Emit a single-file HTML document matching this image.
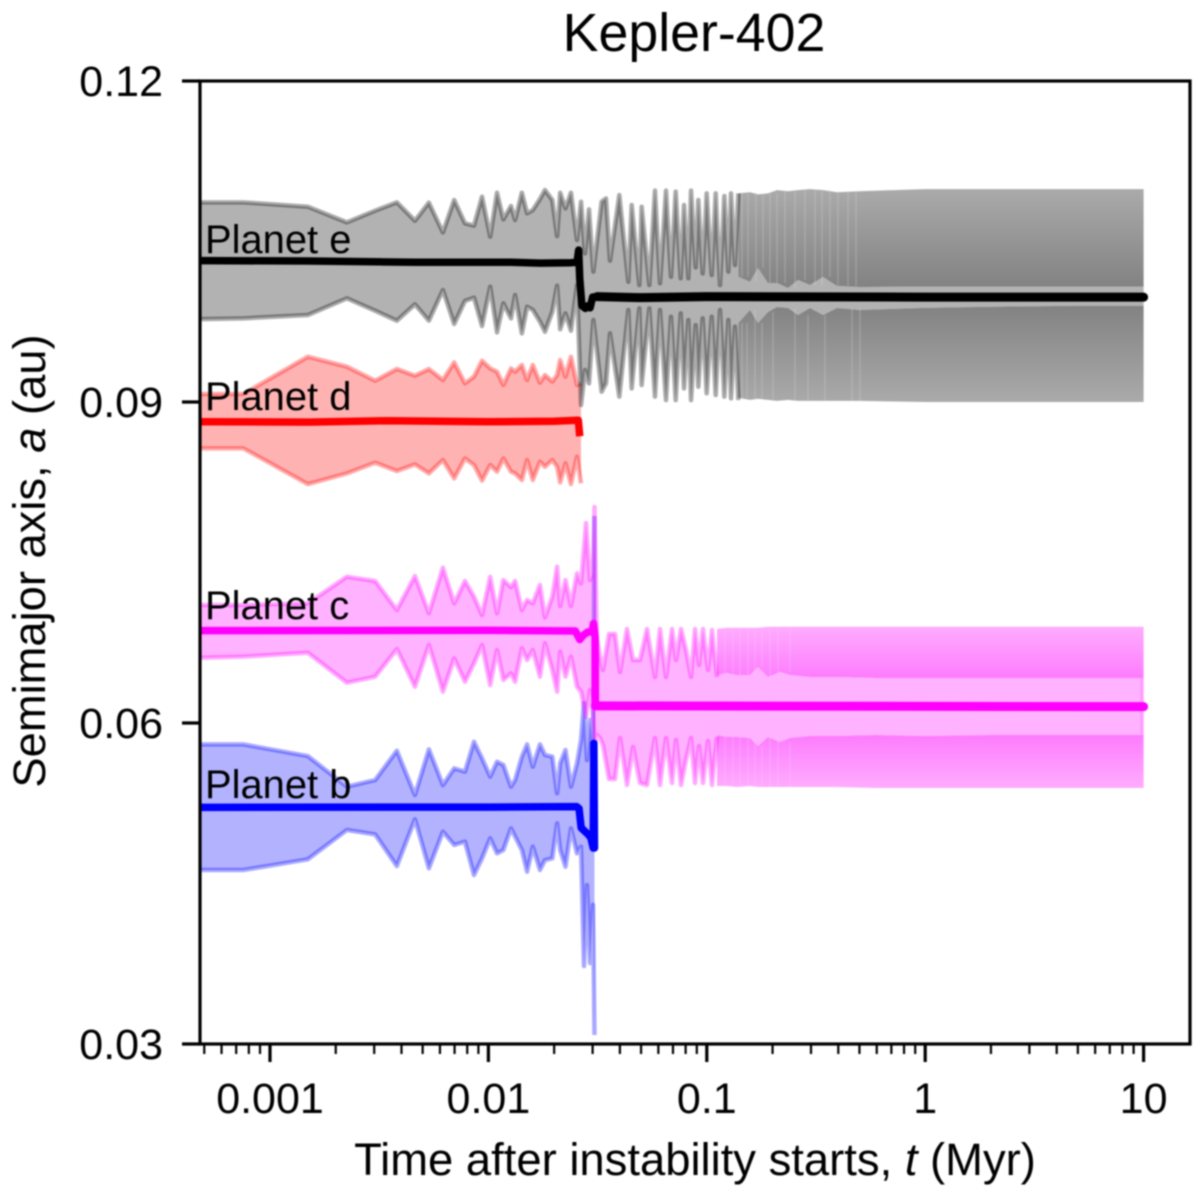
<!DOCTYPE html>
<html lang="en">
<head>
<meta charset="utf-8">
<title>Kepler-402</title>
<style>
html,body{margin:0;padding:0;background:#fff;}
#chart{display:block;width:1200px;height:1192px;filter:blur(0.7px);font-family:"Liberation Sans",sans-serif;fill:#000;}
</style>
</head>
<body>
<svg id="chart" xmlns="http://www.w3.org/2000/svg" width="1200" height="1192" viewBox="0 0 1200 1192">
<defs>
<clipPath id="axes-clip"><rect x="200" y="81" width="990" height="963"></rect></clipPath>
</defs>
<g id="marks" clip-path="url(#axes-clip)"></g>
<g id="labels">
<text x="205" y="253" font-size="39.9">Planet e</text>
<text x="205" y="410" font-size="39.9">Planet d</text>
<text x="205" y="619" font-size="39.9">Planet c</text>
<text x="205" y="798" font-size="39.9">Planet b</text>
</g>
<g id="axes"></g>
<text x="694" y="51" font-size="53.7" text-anchor="middle">Kepler-402</text>
<text x="695" y="1175" font-size="45.4" text-anchor="middle">Time after instability starts, <tspan font-style="italic">t</tspan> (Myr)</text>
<text transform="translate(45 561) rotate(-90)" font-size="45.3" text-anchor="middle">Semimajor axis, <tspan font-style="italic">a</tspan> (au)</text>
</svg>
<script>
// ---- axis ticks ----
const xTickValues = [0.001, 0.01, 0.1, 1, 10];
const xTickLabels = ["0.001", "0.01", "0.1", "1", "10"];
const yTickValues = [0.12, 0.09, 0.06, 0.03];
const yTickLabels = ["0.12", "0.09", "0.06", "0.03"];

// ---- pre-instability samples, shared time column (Myr) ----
const earlyT = [0.00048,0.000755,0.00149,0.00225,0.00303,0.00381,0.00461,0.00534,0.00619,0.00697,0.00781,0.00859,0.00935,0.01019,0.01095,0.01171,0.01269,0.01325,0.01423,0.01504,0.01597,0.01722,0.01816,0.01962,0.02063,0.02131,0.02254,0.02388,0.02545,0.02655];

const eUpperEarly = [0.10866,0.10866,0.10825,0.10679,0.10788,0.10866,0.10694,0.10863,0.10585,0.10888,0.10670,0.10648,0.10919,0.10545,0.10956,0.10707,0.10832,0.10701,0.10956,0.10763,0.10794,0.10897,0.10981,0.10888,0.10551,0.10956,0.10810,0.10956,0.10514,0.10872];
const eLowerEarly = [0.09775,0.09782,0.09813,0.09969,0.09853,0.09760,0.09913,0.09760,0.10046,0.09729,0.09944,0.09975,0.09710,0.10078,0.09651,0.09922,0.09782,0.10000,0.09641,0.09891,0.09860,0.09751,0.09657,0.09844,0.10087,0.09679,0.09828,0.09666,0.10093,0.08972];

const dUpperEarly = [0.09075,0.09075,0.09423,0.09330,0.09199,0.09308,0.09246,0.09308,0.09205,0.09370,0.09174,0.09237,0.09386,0.09314,0.09283,0.09159,0.09314,0.09283,0.09346,0.09205,0.09346,0.09180,0.09252,0.09190,0.09252,0.09392,0.09237,0.09423,0.09159,0.09174];
const dLowerEarly = [0.08567,0.08567,0.08233,0.08333,0.08433,0.08355,0.08417,0.08333,0.08458,0.08286,0.08473,0.08411,0.08265,0.08411,0.08349,0.08473,0.08349,0.08333,0.08271,0.08458,0.08271,0.08442,0.08395,0.08458,0.08395,0.08249,0.08427,0.08233,0.08489,0.08240];

const cUpperEarly = [0.07103,0.07103,0.07118,0.07367,0.07327,0.07056,0.07374,0.07025,0.07452,0.07118,0.07327,0.07181,0.07009,0.07367,0.07025,0.07336,0.07268,0.07327,0.07056,0.07149,0.07118,0.07290,0.06987,0.07181,0.07461,0.07093,0.07336,0.07093,0.07399,0.07305];
const cLowerEarly = [0.06610,0.06620,0.06657,0.06377,0.06433,0.06691,0.06339,0.06729,0.06293,0.06604,0.06386,0.06557,0.06729,0.06355,0.06682,0.06402,0.06464,0.06386,0.06698,0.06589,0.06682,0.06433,0.06744,0.06495,0.06293,0.06667,0.06433,0.06620,0.06339,0.06293];

const bUpperEarly = [0.05800,0.05800,0.05691,0.05405,0.05467,0.05741,0.05327,0.05754,0.05420,0.05576,0.05545,0.05825,0.05670,0.05498,0.05638,0.05607,0.05405,0.05467,0.05685,0.05800,0.05592,0.05800,0.05701,0.05685,0.05343,0.05623,0.05748,0.05405,0.05623,0.05841];
const bLowerEarly = [0.04626,0.04626,0.04726,0.05000,0.04959,0.04663,0.05100,0.04642,0.04984,0.04860,0.04891,0.04579,0.04735,0.04922,0.04782,0.04813,0.05015,0.04938,0.04813,0.04610,0.04844,0.04626,0.04719,0.04735,0.05062,0.04813,0.04657,0.05015,0.04782,0.04844];

// ---- the instability itself ----
const cSpikeT = [0.02799,0.02919,0.03013,0.03060];
const cSpikeUpper = [0.07869,0.07336,0.07400,0.08019];
const cSpikeLower = [0.06056,0.06308,0.06100,0.05794];
const bSpikeT = [0.02740,0.02827,0.02919,0.03013,0.03060];
const bSpikeUpper = [0.06187,0.05654,0.06028,0.05800,0.07935];
const bSpikeLower = [0.03729,0.04486,0.03757,0.04300,0.03084];

// ---- resolved oscillation after the instability ----
const eLateT = [0.02769,0.02888,0.03023,0.03300,0.03455,0.03603,0.03976,0.04372,0.04529,0.04910,0.05031,0.05455,0.05790,0.06105,0.06503,0.06856,0.07202,0.07593,0.07864,0.08231,0.08468,0.08892,0.09146,0.09574,0.09986,0.10527,0.10981,0.11494,0.12031,0.12550,0.12907,0.13461,0.13947];
const eUpperLate = [0.10389,0.10800,0.10218,0.10872,0.10903,0.10321,0.10934,0.10124,0.10841,0.10093,0.10825,0.10093,0.10975,0.10109,0.10975,0.10171,0.10966,0.10156,0.10841,0.10156,0.10975,0.10258,0.10888,0.10202,0.10950,0.10187,0.10950,0.10093,0.10925,0.10218,0.10950,0.10280,0.10950];
const eLowerLate = [0.09299,0.09174,0.09766,0.09096,0.09174,0.09641,0.09050,0.09860,0.09127,0.09875,0.09159,0.09875,0.09050,0.09860,0.09018,0.09797,0.09018,0.09828,0.09127,0.09766,0.09018,0.09719,0.09143,0.09782,0.09081,0.09797,0.09065,0.09860,0.09050,0.09766,0.09034,0.09704,0.09018];

const cLateT = [0.03142,0.03243,0.03347,0.03566,0.03799,0.04005,0.04312,0.04594,0.04945,0.05323,0.05790,0.06105,0.06504,0.06930,0.07228,0.07620,0.08032,0.08468,0.08831,0.09211,0.09607,0.10127,0.10563,0.11137];
const cUpperLate = [0.06776,0.06626,0.06495,0.06832,0.06832,0.06477,0.06879,0.06589,0.06589,0.06879,0.06430,0.06879,0.06430,0.06879,0.06589,0.06879,0.06682,0.06430,0.06879,0.06542,0.06879,0.06495,0.06869,0.06430];
const cLowerLate = [0.05888,0.05860,0.05794,0.05477,0.05477,0.05860,0.05421,0.05776,0.05439,0.05421,0.05860,0.05421,0.05860,0.05439,0.05841,0.05421,0.05654,0.05860,0.05439,0.05785,0.05439,0.05832,0.05421,0.05869];

// ---- unresolved oscillation envelope out to 10 Myr ----
const eBandT = [0.13947,0.1577,0.1716,0.1906,0.2096,0.2355,0.2616,0.2969,0.3405,0.3947,0.5029,1,2,5,10];
const eBandOuterUpper = [0.1095,0.1096,0.1094,0.1095,0.1098,0.1097,0.1098,0.1099,0.1098,0.1096,0.1097,0.1099,0.1099,0.1099,0.1099];
const eBandInnerUpper = [0.10171,0.10124,0.10252,0.10112,0.10112,0.10065,0.10140,0.10093,0.10168,0.10084,0.10075,0.1008,0.1008,0.1008,0.1008];
const eBandInnerLower = [0.09738,0.0986,0.09738,0.09841,0.09888,0.09878,0.09813,0.09878,0.09813,0.09878,0.09860,0.0988,0.0989,0.0990,0.0990];
const eBandOuterLower = [0.0904,0.0902,0.0903,0.0902,0.0901,0.0902,0.0901,0.0901,0.0901,0.0901,0.0901,0.0900,0.0900,0.0900,0.0900];
const eUpperGapT = [0.1449,0.1544,0.1680,0.1809,0.1947,0.2096,0.2281,0.2534,0.2816,0.3129,0.3369,0.3665,0.3987,0.4431,0.4822];
const eLowerGapT = [0.1449,0.1528,0.1662,0.1790,0.2010,0.2534,0.2906,0.3477,0.4622,0.5029];

const cBandT = [0.11137,0.1238,0.1375,0.1577,0.1716,0.1906,0.2164,0.2404,0.2969,0.3864,0.6016,0.977,2,5,10];
const cBandOuterUpper = [0.0688,0.0689,0.0689,0.0689,0.0689,0.0690,0.0690,0.0690,0.0690,0.0690,0.0690,0.0690,0.0690,0.0690,0.0690];
const cBandInnerUpper = [0.06449,0.06467,0.06449,0.06449,0.06523,0.0643,0.06477,0.06449,0.0643,0.0643,0.06421,0.06421,0.06421,0.06421,0.06421];
const cBandInnerLower = [0.05888,0.05869,0.05869,0.0586,0.05785,0.05869,0.05822,0.0586,0.05878,0.05878,0.05888,0.05878,0.05888,0.05888,0.05888];
const cBandOuterLower = [0.05411,0.05411,0.05402,0.05411,0.05402,0.05402,0.05402,0.05402,0.05402,0.05402,0.05393,0.05393,0.05393,0.05393,0.05393];
const cGapT = [0.1212,0.1318,0.1419,0.1544,0.1662,0.1790,0.1947,0.2118,0.2404];
const cBandEndT = [9.63, 10];

// ---- mean semimajor axis of each planet ----
const eMeanT = [0.00048,0.00149,0.00461,0.01269,0.01722,0.02388,0.02545,0.0259,0.0262,0.0268,0.0278,0.0285,0.0292,0.0300,0.0315,0.05,0.1,1,10];
const eMeanA = [0.10321,0.10318,0.10306,0.10306,0.10298,0.10302,0.10305,0.1042,0.1015,0.0990,0.09875,0.0990,0.0988,0.0998,0.09985,0.09975,0.09985,0.0998,0.0998];
const dMeanT = [0.00048,0.0015,0.0035,0.01,0.02,0.0258,0.0262];
const dMeanA = [0.08816,0.08812,0.08825,0.08815,0.0882,0.0883,0.0868];
const cMeanT = [0.00048,0.01,0.025,0.0262,0.0272,0.0285,0.0298,0.0303,0.0308,0.0309,10];
const cMeanA = [0.06863,0.06866,0.0686,0.0678,0.0682,0.0685,0.0685,0.0693,0.068,0.0616,0.06153];
const bMeanT = [0.00048,0.01,0.0254,0.026,0.0266,0.0285,0.0295,0.0302,0.0304,0.0306];
const bMeanA = [0.05212,0.05214,0.05218,0.052,0.0502,0.04963,0.04925,0.04832,0.0581,0.04832];

// ---- axis functions ----
function xScale(t) { return 270 + 218.4 * (Math.log10(t) + 3); }
function yScale(a) { return 81 + (0.12 - a) / 0.09 * 963; }

const SVG_NS = "http://www.w3.org/2000/svg";
const marks = document.getElementById("marks");
const axes = document.getElementById("axes");
const defs = document.querySelector("#chart defs");

function pts(ts, as) {
  return ts.map(function (t, i) { return xScale(t).toFixed(2) + "," + yScale(as[i]).toFixed(2); });
}

function bandGradient(id, outerA, innerA, outerColor, innerColor) {
  const g = document.createElementNS(SVG_NS, "linearGradient");
  g.setAttribute("id", id);
  g.setAttribute("gradientUnits", "userSpaceOnUse");
  g.setAttribute("x1", "0");
  g.setAttribute("x2", "0");
  g.setAttribute("y1", yScale(outerA).toFixed(2));
  g.setAttribute("y2", yScale(innerA).toFixed(2));
  const s1 = document.createElementNS(SVG_NS, "stop");
  s1.setAttribute("offset", "0");
  s1.setAttribute("stop-color", outerColor);
  const s2 = document.createElementNS(SVG_NS, "stop");
  s2.setAttribute("offset", "1");
  s2.setAttribute("stop-color", innerColor);
  g.appendChild(s1);
  g.appendChild(s2);
  defs.appendChild(g);
}

function polygon(points, fill, name) {
  const el = document.createElementNS(SVG_NS, "polygon");
  el.setAttribute("points", points.join(" "));
  el.setAttribute("fill", fill);
  
  
  marks.appendChild(el);
}

function outline(ts, as, color, name) {
  const el = document.createElementNS(SVG_NS, "polyline");
  el.setAttribute("points", pts(ts, as).join(" "));
  el.setAttribute("fill", "none");
  el.setAttribute("stroke", color);
  el.setAttribute("stroke-opacity", "0.33");
  el.setAttribute("stroke-width", "4.5");
  el.setAttribute("stroke-linejoin", "round");
  
  
  marks.appendChild(el);
}

function meanLine(ts, as, color, width, cap, name) {
  const el = document.createElementNS(SVG_NS, "polyline");
  el.setAttribute("points", pts(ts, as).join(" "));
  el.setAttribute("fill", "none");
  el.setAttribute("stroke", color);
  el.setAttribute("stroke-width", width);
  el.setAttribute("stroke-linecap", cap);
  el.setAttribute("stroke-linejoin", "round");
  
  
  marks.appendChild(el);
}

function lateMean(ts, as, color, name) {
  const keepT = ts.filter(function (t) { return t >= 0.0309; });
  const keepA = as.filter(function (a, i) { return ts[i] >= 0.0309; });
  meanLine(keepT, keepA, color, 9, "round", name);
}

// A lighter vertical streak inside a dense band, between its outer and inner bounds
function gapStreak(t, bandT, outerA, innerA, color, name) {
  let i = 0;
  while (i < bandT.length - 2 && bandT[i + 1] < t) i++;
  const el = document.createElementNS(SVG_NS, "line");
  el.setAttribute("x1", xScale(t).toFixed(2));
  el.setAttribute("x2", xScale(t).toFixed(2));
  el.setAttribute("y1", yScale(outerA[i]).toFixed(2));
  el.setAttribute("y2", yScale(innerA[i]).toFixed(2));
  el.setAttribute("stroke", color);
  el.setAttribute("stroke-opacity", "0.3");
  el.setAttribute("stroke-width", "1.4");
  
  
  marks.appendChild(el);
}

function rev(a) { return a.slice().reverse(); }

// ---- planet d envelope ----
polygon(
  pts(earlyT, dUpperEarly).concat(pts(rev(earlyT), rev(dLowerEarly))),
  "#ff0000", "planet-d-envelope"
);
marks.lastChild.setAttribute("fill-opacity", "0.3");
outline(earlyT, dUpperEarly, "#ff0000", "planet-d-upper-bound");
outline(earlyT, dLowerEarly, "#ff0000", "planet-d-lower-bound");

// ---- planet e envelope ----
const eN = eBandT.length - 1;
const eTop = pts(earlyT.concat(eLateT), eUpperEarly.concat(eUpperLate)).concat(pts(eBandT, eBandInnerUpper));
const eBottom = pts(earlyT.concat(eLateT), eLowerEarly.concat(eLowerLate)).concat(pts(eBandT, eBandInnerLower));
polygon(eTop.concat(rev(eBottom)), "#000000", "planet-e-envelope");
marks.lastChild.setAttribute("fill-opacity", "0.3");
bandGradient("e-band-up", eBandOuterUpper[eN], eBandInnerUpper[eN], "#aaaaaa", "#828282");
bandGradient("e-band-lo", eBandOuterLower[eN], eBandInnerLower[eN], "#aaaaaa", "#828282");
polygon(pts(eBandT, eBandOuterUpper).concat(pts(rev(eBandT), rev(eBandInnerUpper))), "url(#e-band-up)", "planet-e-upper-dense-band");
polygon(pts(eBandT, eBandOuterLower).concat(pts(rev(eBandT), rev(eBandInnerLower))), "url(#e-band-lo)", "planet-e-lower-dense-band");
eUpperGapT.forEach(function (t) {
  gapStreak(t, eBandT, eBandOuterUpper, eBandInnerUpper, "#d4d4d4", "planet-e-upper-band-streak");
});
eLowerGapT.forEach(function (t) {
  gapStreak(t, eBandT, eBandOuterLower, eBandInnerLower, "#d4d4d4", "planet-e-lower-band-streak");
});
outline(earlyT.concat(eLateT), eUpperEarly.concat(eUpperLate), "#000000", "planet-e-upper-bound");
outline(earlyT.concat(eLateT), eLowerEarly.concat(eLowerLate), "#000000", "planet-e-lower-bound");

// ---- planet b envelope ----
const bT = earlyT.concat(bSpikeT);
const bUp = bUpperEarly.concat(bSpikeUpper);
const bLo = bLowerEarly.concat(bSpikeLower);
polygon(pts(bT, bUp).concat(pts(rev(bT), rev(bLo))), "#0000ff", "planet-b-envelope");
marks.lastChild.setAttribute("fill-opacity", "0.3");
outline(bT, bUp, "#0000ff", "planet-b-upper-bound");
outline(bT, bLo, "#0000ff", "planet-b-lower-bound");

// ---- planet c envelope ----
const cN = cBandT.length - 1;
const cT = earlyT.concat(cSpikeT, cLateT);
const cUp = cUpperEarly.concat(cSpikeUpper, cUpperLate);
const cLo = cLowerEarly.concat(cSpikeLower, cLowerLate);
const cTop = pts(cT, cUp).concat(pts(cBandT, cBandInnerUpper));
const cBottom = pts(cT, cLo).concat(pts(cBandT, cBandInnerLower));
polygon(cTop.concat(rev(cBottom)), "#ff00ff", "planet-c-envelope");
marks.lastChild.setAttribute("fill-opacity", "0.3");
bandGradient("c-band-up", cBandOuterUpper[cN], cBandInnerUpper[cN], "#feacfe", "#fd7bfd");
bandGradient("c-band-lo", cBandOuterLower[cN], cBandInnerLower[cN], "#feacfe", "#fd7bfd");
polygon(pts(cBandT, cBandOuterUpper).concat(pts(rev(cBandT), rev(cBandInnerUpper))), "url(#c-band-up)", "planet-c-upper-dense-band");
polygon(pts(cBandT, cBandOuterLower).concat(pts(rev(cBandT), rev(cBandInnerLower))), "url(#c-band-lo)", "planet-c-lower-dense-band");
cGapT.forEach(function (t) {
  gapStreak(t, cBandT, cBandOuterUpper, cBandInnerUpper, "#ffc8ff", "planet-c-upper-band-streak");
  gapStreak(t, cBandT, cBandOuterLower, cBandInnerLower, "#ffc8ff", "planet-c-lower-band-streak");
});
polygon(
  pts(cBandEndT, [cBandInnerUpper[cN], cBandInnerUpper[cN]]).concat(pts(rev(cBandEndT), [cBandInnerLower[cN], cBandInnerLower[cN]])),
  "#ff9dff", "planet-c-band-end-strip"
);
outline(cT, cUp, "#ff00ff", "planet-c-upper-bound");
outline(cT, cLo, "#ff00ff", "planet-c-lower-bound");

// ---- mean lines ----
meanLine(dMeanT, dMeanA, "#ff0000", 7.5, "butt", "planet-d-mean-line");
meanLine(eMeanT, eMeanA, "#000000", 7.5, "round", "planet-e-mean-line");
lateMean(eMeanT, eMeanA, "#000000", "planet-e-mean-line-late");
meanLine(cMeanT, cMeanA, "#ff00ff", 7.5, "round", "planet-c-mean-line");
lateMean(cMeanT, cMeanA, "#ff00ff", "planet-c-mean-line-late");
meanLine(bMeanT, bMeanA, "#0000ff", 7.5, "round", "planet-b-mean-line");

// ---- frame and ticks ----
const frame = document.createElementNS(SVG_NS, "rect");
frame.setAttribute("x", "200");
frame.setAttribute("y", "81");
frame.setAttribute("width", "990");
frame.setAttribute("height", "963");
frame.setAttribute("fill", "none");
frame.setAttribute("stroke", "#000");
frame.setAttribute("stroke-width", "3.2");


axes.appendChild(frame);

function tickLine(x1, y1, x2, y2, w) {
  const el = document.createElementNS(SVG_NS, "line");
  el.setAttribute("x1", x1);
  el.setAttribute("y1", y1);
  el.setAttribute("x2", x2);
  el.setAttribute("y2", y2);
  el.setAttribute("stroke", "#000");
  el.setAttribute("stroke-width", w);
  axes.appendChild(el);
  return el;
}

yTickValues.forEach(function (v, i) {
  const y = yScale(v);
  const tick = tickLine(182, y, 200, y, 3.2);
  
  
  const label = document.createElementNS(SVG_NS, "text");
  label.setAttribute("x", "163");
  label.setAttribute("y", y + 15);
  label.setAttribute("font-size", "43");
  label.setAttribute("text-anchor", "end");
  label.textContent = yTickLabels[i];
  
  
  axes.appendChild(label);
});

xTickValues.forEach(function (v, i) {
  const x = xScale(v);
  const tick = tickLine(x, 1044, x, 1062, 3.2);
  
  
  const label = document.createElementNS(SVG_NS, "text");
  label.setAttribute("x", x);
  label.setAttribute("y", "1113");
  label.setAttribute("font-size", "43");
  label.setAttribute("text-anchor", "middle");
  label.textContent = xTickLabels[i];
  
  
  axes.appendChild(label);
});

[0.0001, 0.001, 0.01, 0.1, 1].forEach(function (decade) {
  for (let m = 2; m <= 9; m++) {
    const x = xScale(decade * m);
    if (x < 200 || x > 1190) continue;
    const minor = tickLine(x, 1044, x, 1054, 2.2);
    
    
  }
});
</script>
</body>
</html>
